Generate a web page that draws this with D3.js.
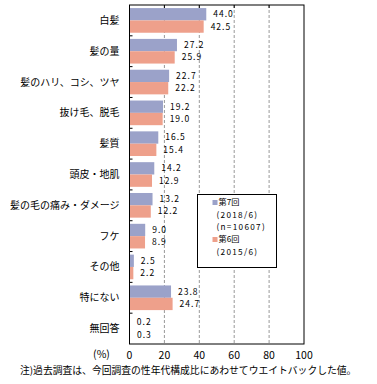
<!DOCTYPE html>
<html>
<head>
<meta charset="utf-8">
<script src="https://cdn.jsdelivr.net/npm/d3@7"></script>
<style>
  body { margin: 0; background: #fff; }
  svg { display: block; font-family: "Noto Sans CJK JP", sans-serif; }
</style>
</head>
<body>
<div id="chart"></div>
<script>
// categories and values
var categories = ["白髪", "髪の量", "髪のハリ、コシ、ツヤ", "抜け毛、脱毛", "髪質", "頭皮・地肌",
    "髪の毛の痛み・ダメージ", "フケ", "その他", "特にない", "無回答"];
var round7 = [44.0, 27.2, 22.7, 19.2, 16.5, 14.2, 13.2, 9.0, 2.5, 23.8, 0.2];
var round6 = [42.5, 25.9, 22.2, 19.0, 15.4, 12.9, 12.2, 8.9, 2.2, 24.7, 0.3];
var xTicks = [0, 20, 40, 60, 80, 100];
var colors = ["#9ba2c9", "#eea08b"];

var width = 377, height = 384;
var margin = { top: 5, left: 129.5, right: 73, bottom: 40 };
var innerW = width - margin.left - margin.right;
var innerH = height - margin.top - margin.bottom;

var svg = d3.select("#chart").append("svg")
    .attr("width", width)
    .attr("height", height);

var g = svg.append("g")
    .attr("transform", "translate(" + margin.left + "," + margin.top + ")");

var x = d3.scaleLinear().domain([0, 100]).range([0, innerW]);
var y = d3.scaleBand().domain(categories).range([0, innerH]).padding(0);
var sub = d3.scaleBand().domain(["s7", "s6"]).range([0, y.bandwidth()])
    .paddingInner(0).paddingOuter(0.25);

// grid lines
g.selectAll(".grid")
    .data(xTicks.slice(1, -1))
    .enter().append("line")
    .attr("x1", d => x(d)).attr("x2", d => x(d))
    .attr("y1", 0).attr("y2", innerH)
    .attr("stroke", "#999")
    .attr("stroke-dasharray", "3,2");

// top ticks
g.selectAll(".ttick")
    .data(xTicks.slice(1, -1))
    .enter().append("line")
    .attr("x1", d => x(d)).attr("x2", d => x(d))
    .attr("y1", 0).attr("y2", 3)
    .attr("stroke", "#000");

// bars
var rows = categories.map((c, i) => ({ cat: c, s7: round7[i], s6: round6[i] }));
var keys = ["s7", "s6"];

var grp = g.selectAll(".row")
    .data(rows)
    .enter().append("g")
    .attr("transform", d => "translate(0," + y(d.cat) + ")");

keys.forEach(function (k, ki) {
    grp.append("rect")
        .attr("x", 0)
        .attr("y", sub(k))
        .attr("width", d => x(d[k]))
        .attr("height", sub.bandwidth())
        .attr("fill", colors[ki]);
    grp.append("text")
        .attr("x", d => x(d[k]) + 7)
        .attr("y", sub(k) + sub.bandwidth() / 2)
        .attr("dy", "0.35em")
        .attr("font-size", 8.5)
        .attr("letter-spacing", 1)
        .text(d => d3.format(".1f")(d[k]));
});

// frame
g.append("rect")
    .attr("x", 0).attr("y", 0)
    .attr("width", innerW).attr("height", innerH)
    .attr("fill", "none")
    .attr("stroke", "#000");

// left ticks at category boundaries
g.selectAll(".ltick")
    .data(d3.range(1, categories.length))
    .enter().append("line")
    .attr("x1", 0).attr("x2", 3)
    .attr("y1", d => d * y.step()).attr("y2", d => d * y.step())
    .attr("stroke", "#000");

// category labels
g.selectAll(".cat")
    .data(categories)
    .enter().append("text")
    .attr("x", -10)
    .attr("y", d => y(d) + y.bandwidth() / 2)
    .attr("dy", "0.35em")
    .attr("text-anchor", "end")
    .attr("font-size", 10)
    .text(d => d);

// x tick labels
g.selectAll(".xlab")
    .data(xTicks)
    .enter().append("text")
    .attr("x", d => x(d))
    .attr("y", innerH + 11.5)
    .attr("dy", "0.35em")
    .attr("text-anchor", "middle")
    .attr("font-size", 10.5)
    .text(d => d);

g.append("text")
    .attr("x", -28)
    .attr("y", innerH + 10.5)
    .attr("dy", "0.35em")
    .attr("text-anchor", "middle")
    .attr("font-size", 10.5)
    .text("(%)");

// legend
var legend = svg.append("g").attr("transform", "translate(197.5,194.5)");
legend.append("rect")
    .attr("width", 79).attr("height", 73)
    .attr("fill", "#fff").attr("stroke", "#000");
var legendLines = [
    { text: "第7回", y: 8, sw: 0 },
    { text: "(2018/6)", y: 21, sw: -1 },
    { text: "(n=10607)", y: 33, sw: -1 },
    { text: "第6回", y: 45, sw: 1 },
    { text: "(2015/6)", y: 58, sw: -1 }
];
legendLines.forEach(function (l) {
    if (l.sw >= 0) {
        legend.append("rect")
            .attr("x", 15).attr("y", l.y - 2.5)
            .attr("width", 5).attr("height", 5)
            .attr("fill", colors[l.sw]);
    }
    legend.append("text")
        .attr("x", l.sw >= 0 ? 21 : 19)
        .attr("y", l.y)
        .attr("dy", "0.35em")
        .attr("font-size", 8.2)
        .attr("letter-spacing", l.sw >= 0 ? 0 : 1.3)
        .text(l.text);
});

// footnote
svg.append("text")
    .attr("x", 20)
    .attr("y", 371)
    .attr("dy", "0.35em")
    .attr("font-size", 9.8)
    .text("注)過去調査は、今回調査の性年代構成比にあわせてウエイトバックした値。");
</script>
</body>
</html>
